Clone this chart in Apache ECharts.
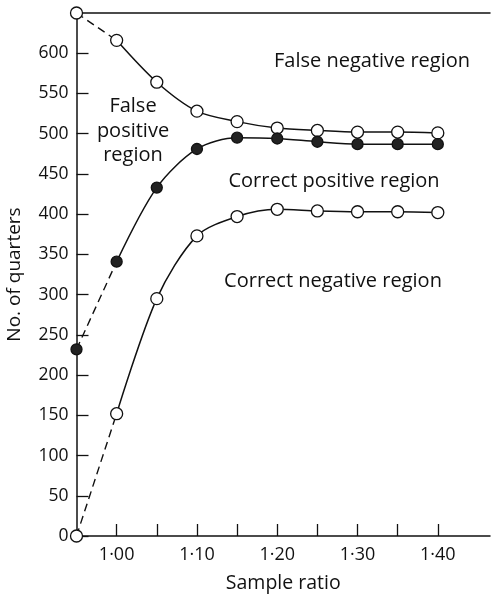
<!DOCTYPE html>
<html>
<head>
<meta charset="utf-8">
<script src="https://cdn.jsdelivr.net/npm/echarts@6/dist/echarts.min.js"></script>
<style>
  html, body { margin: 0; padding: 0; background: #fff; }
  #chart { width: 491px; height: 594px; }
</style>
</head>
<body>
<div id="chart"></div>
<script>
// Sample ratios at which the quarters were counted
const sampleRatio = [0.95, 1.00, 1.05, 1.10, 1.15, 1.20, 1.25, 1.30, 1.35, 1.40];
// Upper boundary (open circles): false negative / false positive divide
const upperBound = [650, 616, 564, 528, 515, 507, 504, 502, 502, 501];
// Middle boundary (filled circles): false positive / correct positive divide
const middleBound = [232, 341, 433, 481, 495, 494, 490, 487, 487, 487];
// Lower boundary (open circles): correct positive / correct negative divide
const lowerBound = [0, 152, 295, 373, 397, 406, 404, 403, 403, 402];

const xTicks = [1.00, 1.05, 1.10, 1.15, 1.20, 1.25, 1.30, 1.35, 1.40];
const xLabels = [1.00, 1.10, 1.20, 1.30, 1.40];
const yTicks = [0, 50, 100, 150, 200, 250, 300, 350, 400, 450, 500, 550, 600];

const FONT = '"Open Sans"';
const INK = '#111';

function pairs(ys, from, to) {
  const out = [];
  for (let i = from; i < to; i++) out.push([sampleRatio[i], ys[i]]);
  return out;
}

function curve(ys, filled) {
  const sym = {
    symbol: 'circle',
    symbolSize: filled ? 11 : 12,
    itemStyle: { color: filled ? '#222' : '#fff', borderColor: INK, borderWidth: 1.3, opacity: 1 }
  };
  return [
    {
      type: 'line',
      data: pairs(ys, 0, 2),
      showSymbol: false,
      lineStyle: { color: INK, width: 1.4, type: [8, 5] },
      z: 2,
      silent: true
    },
    Object.assign({
      type: 'line',
      data: pairs(ys, 1, ys.length),
      smooth: 0.3,
      lineStyle: { color: INK, width: 1.5 },
      z: 3,
      silent: true
    }, sym),
    // marker at the start of the dashed lead-in
    Object.assign({
      type: 'scatter',
      data: pairs(ys, 0, 1),
      z: 4,
      silent: true
    }, sym)
  ];
}

const chart = echarts.init(document.getElementById('chart'), null, { renderer: 'canvas' });

const regionText = (text, x, y) => ({
  type: 'text',
  x: x, y: y,
  z: 10,
  style: {
    text, font: '20px ' + FONT, fill: INK,
    align: 'center', verticalAlign: 'middle', lineHeight: 24.5
  }
});

chart.setOption({
  animation: false,
  backgroundColor: '#fff',
  grid: { left: 76.5, right: 1, top: 13, bottom: 58, containLabel: false, outerBoundsMode: 'none' },
  xAxis: [
    {
      type: 'value',
      min: 0.95,
      max: 1.465,
      position: 'bottom',
      name: 'Sample ratio',
      nameLocation: 'middle',
      nameGap: 37,
      nameTextStyle: { fontFamily: FONT, fontSize: 19.5, color: INK },
      axisLine: { show: true, onZero: false, lineStyle: { color: INK, width: 1.5 } },
      axisTick: { show: true, inside: true, length: 12, customValues: xTicks, lineStyle: { color: INK, width: 1.3 } },
      axisLabel: {
        customValues: xLabels,
        margin: 10,
        fontFamily: FONT, fontSize: 18, color: INK,
        formatter: v => v.toFixed(2).replace('.', '\u00B7')
      },
      splitLine: { show: false }
    },
    {
      type: 'value',
      min: 0.95,
      max: 1.465,
      position: 'top',
      axisLine: { show: true, onZero: false, lineStyle: { color: INK, width: 1.5 } },
      axisTick: { show: false },
      axisLabel: { show: false },
      splitLine: { show: false }
    }
  ],
  yAxis: {
    type: 'value',
    min: 0,
    max: 650,
    name: 'No. of quarters',
    nameLocation: 'middle',
    nameGap: 52,
    nameTextStyle: { fontFamily: FONT, fontSize: 19, color: INK },
    axisLine: { show: true, onZero: false, lineStyle: { color: INK, width: 1.5 } },
    axisTick: { show: true, inside: true, length: 12, customValues: yTicks, lineStyle: { color: INK, width: 1.3 } },
    axisLabel: { customValues: yTicks, margin: 8, fontFamily: FONT, fontSize: 17.5, color: INK },
    splitLine: { show: false }
  },
  graphic: [
    regionText('False negative region', 372, 61),
    regionText('False\npositive\nregion', 133, 131),
    regionText('Correct positive region', 334, 181),
    regionText('Correct negative region', 333, 281)
  ],
  series: [].concat(
    curve(upperBound, false),
    curve(middleBound, true),
    curve(lowerBound, false)
  )
});
</script>
</body>
</html>
